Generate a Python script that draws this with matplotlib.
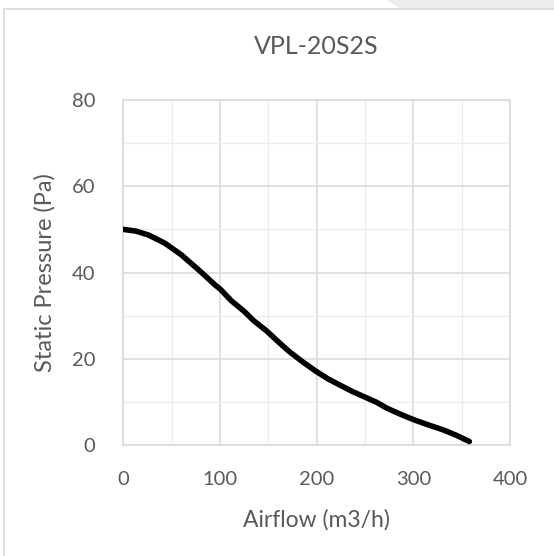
import matplotlib.pyplot as plt
from matplotlib.patches import Rectangle, Polygon
from matplotlib.ticker import MultipleLocator

# curve
airflow = [0, 13, 26, 43, 60, 78, 95, 100, 112, 125, 135, 148, 160, 172, 186, 200,
           212, 224, 237, 250, 262, 273, 287, 300, 315, 331, 345, 358]
pressure = [50.0, 49.6, 48.7, 46.8, 44.1, 40.6, 37.1, 36.2, 33.4, 31.0, 28.8, 26.5, 24.0, 21.6, 19.2, 17.0,
            15.3, 13.9, 12.4, 11.1, 9.9, 8.5, 7.1, 5.9, 4.7, 3.5, 2.2, 0.8]

title = "VPL-20S2S"
xlabel = "Airflow (m3/h)"
ylabel = "Static Pressure (Pa)"

txt = "#595959"
grid = "#d9d9d9"
plt.rcParams['font.family'] = ['Lato', 'DejaVu Sans']

fig = plt.figure(figsize=(5.54, 5.56), dpi=100)
fig.patch.set_facecolor("white")

# page shading top right and chart frame
fig.patches.append(Polygon([(387/554, 1), (1, 1), (1, 1 - 22/556), (420/554, 1 - 22/556)],
                           closed=True, transform=fig.transFigure, facecolor="#eeecea",
                           edgecolor="none", zorder=0))
fig.patches.append(Rectangle((4/554, -0.1), 1.2, (1 - 9/556) + 0.1, transform=fig.transFigure,
                             facecolor="white", edgecolor=grid, linewidth=1.2, zorder=1))

ax = fig.add_axes([123.3/554, 111/556, 386.7/554, 345/556])
ax.set_facecolor("white")
ax.set_zorder(2)
ax.plot(airflow, pressure, color="black", linewidth=4, solid_capstyle="round",
        solid_joinstyle="round", zorder=3)

ax.set_xlim(0, 400)
ax.set_ylim(0, 80)
ax.xaxis.set_major_locator(MultipleLocator(100))
ax.xaxis.set_minor_locator(MultipleLocator(50))
ax.yaxis.set_major_locator(MultipleLocator(20))
ax.yaxis.set_minor_locator(MultipleLocator(10))
ax.grid(which="major", color=grid, linewidth=1.1)
ax.grid(which="minor", color="#ececec", linewidth=0.9)
ax.set_axisbelow(True)
for s in ax.spines.values():
    s.set_color(grid)
    s.set_linewidth(1.1)
ax.tick_params(which="both", length=0, colors=txt, labelsize=14.5)
ax.tick_params(axis="x", pad=19)
ax.tick_params(axis="y", pad=20)

ax.set_title(title, color=txt, fontsize=18, pad=33)
ax.set_xlabel(xlabel, color=txt, fontsize=16.5, labelpad=15)
ax.set_ylabel(ylabel, color=txt, fontsize=17, labelpad=12)

fig.savefig("out.png", dpi=100)
